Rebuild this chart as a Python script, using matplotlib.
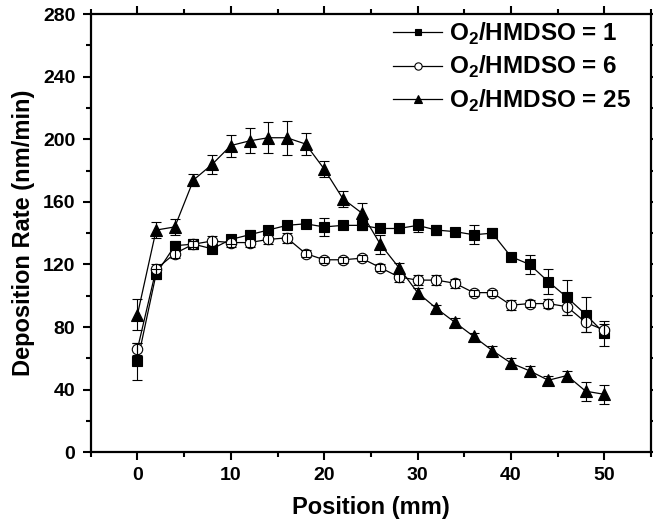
import numpy as np
import matplotlib.pyplot as plt
from matplotlib.ticker import MultipleLocator

plt.rcParams['font.family'] = ['Liberation Sans', 'DejaVu Sans']
plt.rcParams['font.weight'] = 'bold'
plt.rcParams['mathtext.fontset'] = 'custom'
plt.rcParams['mathtext.rm'] = 'Liberation Sans:bold'
plt.rcParams['mathtext.bf'] = 'Liberation Sans:bold'

# Position along the substrate (mm)
position = np.arange(0, 51, 2)

# Deposition rates (nm/min) for the three O2/HMDSO ratios
rate_1 = [58, 114, 132, 133, 130, 136, 139, 142, 145, 146, 144, 145, 145,
          143, 143, 145, 142, 141, 139, 140, 125, 120, 109, 99, 88, 76]
err_1 = [12, 3, 3, 2, 2, 3, 3, 2, 2, 2, 6, 2, 3,
         2, 3, 4, 3, 2, 6, 3, 2, 6, 8, 11, 11, 8]

rate_6 = [66, 117, 127, 133, 135, 134, 134, 136, 137, 127, 123, 123, 124,
          118, 112, 110, 110, 108, 102, 102, 94, 95, 95, 93, 83, 78]
err_6 = [4, 3, 3, 3, 3, 3, 3, 3, 3, 2, 2, 2, 2,
         2, 3, 3, 3, 3, 2, 2, 3, 2, 3, 5, 6, 4]

rate_25 = [88, 142, 144, 174, 184, 196, 199, 201, 201, 197, 181, 162, 153,
           133, 118, 102, 92, 83, 74, 65, 57, 52, 46, 49, 39, 37]
err_25 = [10, 5, 5, 4, 6, 7, 8, 10, 11, 7, 5, 5, 6,
          6, 3, 3, 2, 3, 2, 3, 3, 3, 3, 3, 6, 6]

labels = [r'O$_\mathbf{2}$/HMDSO = 1', r'O$_\mathbf{2}$/HMDSO = 6', r'O$_\mathbf{2}$/HMDSO = 25']

fig = plt.figure(figsize=(6.53, 5.24), dpi=100)
ax = fig.add_axes([0.139, 0.137, 0.858, 0.836])

series = [
    (rate_1, err_1, 's', 'black', 6.5),
    (rate_6, err_6, 'o', 'white', 7.5),
    (rate_25, err_25, '^', 'black', 9),
]

for (y, e, m, fc, ms), lab in zip(series, labels):
    ax.plot(position, y, color='black', lw=0.9, marker=m, ms=ms,
            mfc=fc, mec='black', mew=0.8, label=lab, zorder=2)
    ax.errorbar(position, y, yerr=e, fmt='none', ecolor='black',
                elinewidth=0.8, capsize=3.5, capthick=0.8, zorder=3)

ax.set_xlim(-5, 55)
ax.set_ylim(0, 280)
ax.xaxis.set_major_locator(MultipleLocator(10))
ax.xaxis.set_minor_locator(MultipleLocator(5))
ax.yaxis.set_major_locator(MultipleLocator(40))
ax.yaxis.set_minor_locator(MultipleLocator(20))
ax.set_xticks([0, 10, 20, 30, 40, 50])

ax.tick_params(which='major', direction='out', length=6, width=1.5,
               labelsize=14, top=True, right=True, pad=5)
ax.tick_params(which='minor', direction='out', length=3.5, width=1.5,
               top=True, right=True)
for s in ax.spines.values():
    s.set_linewidth(1.6)

ax.set_xlabel('Position (mm)', fontsize=17, fontweight='bold', labelpad=8)
ax.set_ylabel('Deposition Rate (nm/min)', fontsize=17, fontweight='bold', labelpad=6)

ax.legend(loc='upper left', frameon=False, fontsize=17.5, handlelength=2.0,
          handletextpad=0.3, labelspacing=0.3, markerscale=0.7,
          borderaxespad=0.0, borderpad=0.0, bbox_to_anchor=(0.54, 0.985))

fig.savefig('out.png', dpi=100)
